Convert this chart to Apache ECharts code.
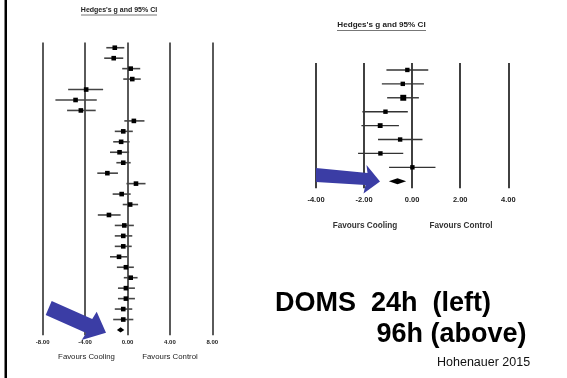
<!DOCTYPE html>
<html>
<head>
<meta charset="utf-8">
<script src="https://cdn.jsdelivr.net/npm/echarts@6/dist/echarts.min.js"></script>
<style>
  html, body { margin: 0; padding: 0; background: #fff; }
  #chart { width: 567px; height: 378px; }
</style>
</head>
<body>
<div id="chart"></div>
<script>
// DOMS 24h forest plot (left) - Hedges's g with 95% CI
var leftEst  = [-1.2, -1.3, 0.3, 0.45, -3.9, -4.9, -4.4, 0.6, -0.4, -0.6, -0.75, -0.4, -1.9, 0.8, -0.55, 0.25, -1.75, -0.3, -0.4, -0.4, -0.8, -0.15, 0.3, -0.15, -0.15, -0.4, -0.4];
var leftLow  = [-2.0, -2.2, -0.5, -0.4, -5.6, -6.8, -5.7, -0.3, -1.2, -1.35, -1.65, -1.05, -2.85, -0.1, -1.4, -0.45, -2.8, -1.2, -1.2, -1.2, -1.65, -1.0, -0.35, -0.9, -0.9, -1.2, -1.35];
var leftHigh = [-0.3, -0.4, 1.2, 1.25, -2.3, -2.9, -3.0, 1.6, 0.5, 0.2, 0.15, 0.3, -0.9, 1.7, 0.3, 1.0, -0.65, 0.6, 0.45, 0.4, 0.0, 0.6, 0.95, 0.7, 0.7, 0.45, 0.55];
var leftPooled = [-0.65, -1.0, -0.3]; // estimate, low, high
var leftTicks = [-8, -4, 0, 4, 8];

// DOMS 96h forest plot (right)
var rightEst  = [-0.2, -0.39, -0.37, -1.11, -1.33, -0.5, -1.32, 0.01];
var rightLow  = [-1.07, -1.26, -1.04, -2.07, -2.11, -1.42, -2.25, -0.96];
var rightHigh = [0.67, 0.49, 0.28, -0.18, -0.55, 0.43, -0.37, 0.97];
var rightWeight = [1, 1, 1.35, 1, 1.1, 1, 1, 1];
var rightPooled = [-0.61, -0.97, -0.25];
var rightTicks = [-4, -2, 0, 2, 4];

var leftRows = leftEst.map(function (v, i) { return 'Study ' + (i + 1); }).concat(['Overall']);
var rightRows = rightEst.map(function (v, i) { return 'Study ' + (i + 1); }).concat(['Overall']);

var FONT = '"Liberation Sans", Arial, sans-serif';
var ARROW = '#3b3da5';

function studyData(est, low, high, w) {
  return est.map(function (v, i) { return [i, v, low[i], high[i], w ? w[i] : 1]; });
}

function ciRender(lineColor, lineW, sq) {
  return function (params, api) {
    var row = api.value(0);
    var pt = api.coord([api.value(1), row]);
    var lo = api.coord([api.value(2), row]);
    var hi = api.coord([api.value(3), row]);
    var s = sq * api.value(4);
    return {
      type: 'group',
      children: [
        { type: 'line', shape: { x1: lo[0], y1: lo[1], x2: hi[0], y2: hi[1] },
          style: { stroke: lineColor, lineWidth: lineW } },
        { type: 'rect', shape: { x: pt[0] - s / 2, y: pt[1] - s / 2, width: s, height: s },
          style: { fill: '#000' } }
      ]
    };
  };
}

function diamondRender(h) {
  return function (params, api) {
    var row = api.value(0);
    var pt = api.coord([api.value(1), row]);
    var lo = api.coord([api.value(2), row]);
    var hi = api.coord([api.value(3), row]);
    return {
      type: 'polygon',
      shape: { points: [[lo[0], pt[1]], [pt[0], pt[1] - h], [hi[0], pt[1]], [pt[0], pt[1] + h]] },
      style: { fill: '#000' }
    };
  };
}

var chart = echarts.init(document.getElementById('chart'));

var option = {
  backgroundColor: '#fff',
  animation: false,
  grid: [
    { left: 42.7, width: 169.6, top: 42.5, height: 292.7 },
    { left: 316, width: 192.3, top: 63, height: 125.2 }
  ],
  xAxis: [
    {
      gridIndex: 0, type: 'value', min: leftTicks[0], max: leftTicks[leftTicks.length - 1], interval: 4,
      axisLine: { show: false }, axisTick: { show: false },
      splitLine: { show: true, lineStyle: { color: '#5a5a5a', width: 2 } },
      axisLabel: { margin: 4, fontSize: 6, fontWeight: 'bold', color: '#222', fontFamily: FONT,
        formatter: function (v) { return v.toFixed(2); } }
    },
    {
      gridIndex: 1, type: 'value', min: rightTicks[0], max: rightTicks[rightTicks.length - 1], interval: 2,
      axisLine: { show: false }, axisTick: { show: false },
      splitLine: { show: true, lineStyle: { color: '#111', width: 1.6 } },
      axisLabel: { margin: 8, fontSize: 7.5, fontWeight: 'bold', color: '#222', fontFamily: FONT,
        formatter: function (v) { return v.toFixed(2); } }
    }
  ],
  yAxis: [
    { gridIndex: 0, type: 'category', data: leftRows, inverse: true, show: false },
    { gridIndex: 1, type: 'category', data: rightRows, inverse: true, show: false }
  ],
  series: [
    {
      type: 'custom', xAxisIndex: 0, yAxisIndex: 0,
      renderItem: ciRender('#444', 1.6, 4.6),
      encode: { x: [1, 2, 3], y: 0 },
      data: studyData(leftEst, leftLow, leftHigh)
    },
    {
      type: 'custom', xAxisIndex: 0, yAxisIndex: 0,
      renderItem: diamondRender(2.6),
      encode: { x: [1, 2, 3], y: 0 },
      data: [[leftEst.length, leftPooled[0], leftPooled[1], leftPooled[2]]]
    },
    {
      type: 'custom', xAxisIndex: 1, yAxisIndex: 1,
      renderItem: ciRender('#333', 1.4, 4.4),
      encode: { x: [1, 2, 3], y: 0 },
      data: studyData(rightEst, rightLow, rightHigh, rightWeight)
    },
    {
      type: 'custom', xAxisIndex: 1, yAxisIndex: 1,
      renderItem: diamondRender(3),
      encode: { x: [1, 2, 3], y: 0 },
      data: [[rightEst.length, rightPooled[0], rightPooled[1], rightPooled[2]]]
    }
  ],
  graphic: [
    // slide border on the left
    { type: 'rect', shape: { x: 4.5, y: 0, width: 2.5, height: 378 }, style: { fill: '#000' } },
    // plot titles
    { type: 'text', x: 119, y: 10.5, style: { text: "Hedges's g and 95% CI", font: 'bold 7px ' + FONT,
      fill: '#222', textAlign: 'center', textVerticalAlign: 'middle' } },
    { type: 'line', shape: { x1: 81, y1: 15, x2: 157, y2: 15 }, style: { stroke: '#777', lineWidth: 1 } },
    { type: 'text', x: 381.5, y: 25, style: { text: "Hedges's g and 95% CI", font: 'bold 8.1px ' + FONT,
      fill: '#222', textAlign: 'center', textVerticalAlign: 'middle' } },
    { type: 'line', shape: { x1: 337, y1: 30.5, x2: 426, y2: 30.5 }, style: { stroke: '#777', lineWidth: 1 } },
    // favours labels
    { type: 'text', x: 86.5, y: 356.5, style: { text: 'Favours Cooling', font: '7.8px ' + FONT,
      fill: '#222', textAlign: 'center', textVerticalAlign: 'middle' } },
    { type: 'text', x: 170, y: 356.5, style: { text: 'Favours Control', font: '7.8px ' + FONT,
      fill: '#222', textAlign: 'center', textVerticalAlign: 'middle' } },
    { type: 'text', x: 365, y: 225.3, style: { text: 'Favours Cooling', font: 'bold 8.2px ' + FONT,
      fill: '#333', textAlign: 'center', textVerticalAlign: 'middle' } },
    { type: 'text', x: 461, y: 225.3, style: { text: 'Favours Control', font: 'bold 8.2px ' + FONT,
      fill: '#333', textAlign: 'center', textVerticalAlign: 'middle' } },
    // arrows pointing at pooled effects
    { type: 'polygon', z: 100, shape: { points: [[51.7, 301], [92.2, 318.9], [96.7, 311.7], [106, 332.7],
      [81.7, 340], [86.2, 332.9], [45.7, 315]] }, style: { fill: ARROW } },
    { type: 'polygon', z: 100, shape: { points: [[316, 168], [367.5, 173], [366.5, 165], [380, 181.5],
      [363.5, 193.5], [365.5, 185], [316, 182]] }, style: { fill: ARROW } },
    // big caption
    { type: 'text', x: 275, y: 290, style: { text: 'DOMS  24h  (left)', font: 'bold 27px ' + FONT,
      fill: '#000', textAlign: 'left', textVerticalAlign: 'alphabetic' } },
    { type: 'text', x: 376.5, y: 321.5, style: { text: '96h (above)', font: 'bold 27px ' + FONT,
      fill: '#000', textAlign: 'left', textVerticalAlign: 'alphabetic' } },
    { type: 'text', x: 437, y: 363, style: { text: 'Hohenauer 2015', font: '12.5px ' + FONT,
      fill: '#111', textAlign: 'left', textVerticalAlign: 'middle' } }
  ]
};

chart.setOption(option);
</script>
</body>
</html>
